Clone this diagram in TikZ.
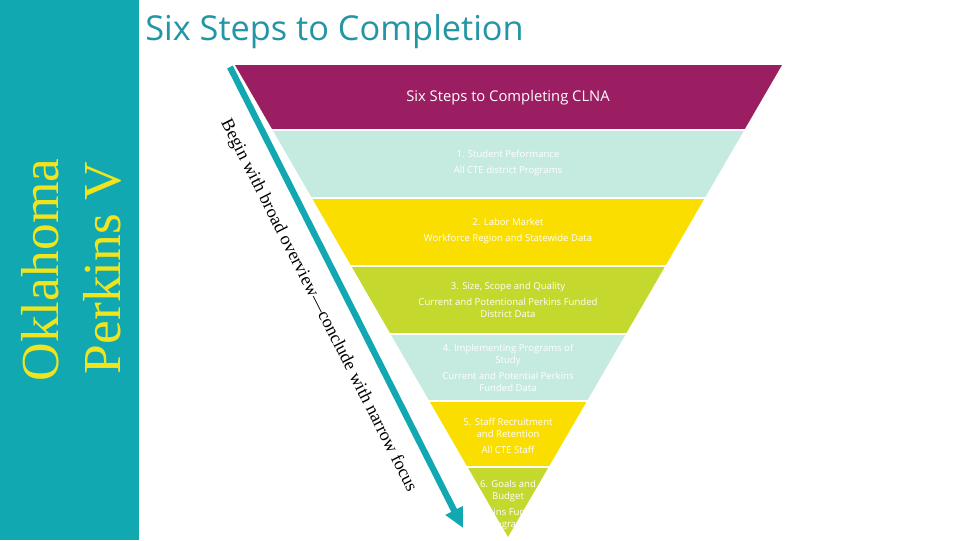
\documentclass[tikz,border=0pt]{standalone}
\usepackage{fontspec}
\setmainfont{Liberation Serif}
\newfontfamily\segoe{Open Sans}
\usetikzlibrary{arrows.meta,positioning}
\definecolor{pkteal}{RGB}{18,168,178}
\definecolor{pktitle}{RGB}{35,150,165}
\definecolor{pkyellow}{RGB}{240,228,30}
\definecolor{clpurple}{RGB}{155,30,98}
\definecolor{clmint}{RGB}{197,235,224}
\definecolor{clyellow}{RGB}{250,222,0}
\definecolor{cllime}{RGB}{197,216,46}
\tikzset{
  steptext/.style={text=white, font=\segoe\fontsize{6.8}{8.5}\selectfont,
                   align=center, inner sep=0pt},
  sidetext/.style={rotate=90, text=pkyellow, font=\fontsize{38}{40}\selectfont,
                   inner sep=0pt},
}

\begin{document}
\begin{tikzpicture}[x=0.025cm, y=-0.025cm]
\useasboundingbox (0,0) rectangle (960,540);
\fill[white] (0,0) rectangle (960,540);

% Side bar
\fill[pkteal] (0,0) rectangle (139,540);
\node[sidetext] (oklahoma) at (40,270) {Oklahoma};
\node[sidetext] (perkins) at (102,268) {Perkins V};

% Title
\node[anchor=base west, text=pktitle, font=\segoe\fontsize{24.4}{30}\selectfont,
      inner sep=0pt] (title) at (145,40) {Six Steps to Completion};

% Funnel bands
\begin{scope}
\clip (235,65) -- (782,65) -- (508,537) -- cycle;
\fill[clpurple] (200,65) rectangle (800,129);
\fill[clmint]   (200,131) rectangle (800,197);
\fill[clyellow] (200,199) rectangle (800,265);
\fill[cllime]   (200,267) rectangle (800,333);
\fill[clmint]   (200,335) rectangle (800,400);
\fill[clyellow] (200,402) rectangle (800,466);
\fill[cllime]   (200,468) rectangle (800,540);
\node[steptext] (step6) at (508,505) {6. Goals and\\Budget\\[2.8pt]Perkins Funded\\Programs};
\end{scope}

% Band texts
\node[text=white, font=\segoe\fontsize{10.5}{13}\selectfont] (clna) at (508,98) {Six Steps to Completing CLNA};
\node[steptext] (step1) at (508,163) {1. Student Peformance\\[2.8pt]All CTE district Programs};
\node[steptext] (step2) at (508,231) {2. Labor Market\\[2.8pt]Workforce Region and Statewide Data};
\node[steptext] (step3) at (508,300) {3. Size, Scope and Quality\\[2.8pt]Current and Potentional Perkins Funded\\District Data};
\node[steptext] (step4) at (508,368) {4. Implementing Programs of\\Study\\[2.8pt]Current and Potential Perkins\\Funded Data};
\node[steptext] (step5) at (508,436) {5. Staff Recruitment\\and Retention\\[2.8pt]All CTE Staff};

% Broad-to-narrow arrow
\coordinate (arrowtop) at (230,67);
\coordinate (arrowtip) at (463,528);
\draw[pkteal, line width=4.5pt, -{Triangle[length=14pt,width=13pt]}] (arrowtop) -- (arrowtip)
  node[pos=0.49, sloped, below=9pt, text=black, font=\fontsize{12.8}{15}\selectfont] (focus)
  {Begin with broad overview—conclude with narrow focus};

\end{tikzpicture}
\end{document}
